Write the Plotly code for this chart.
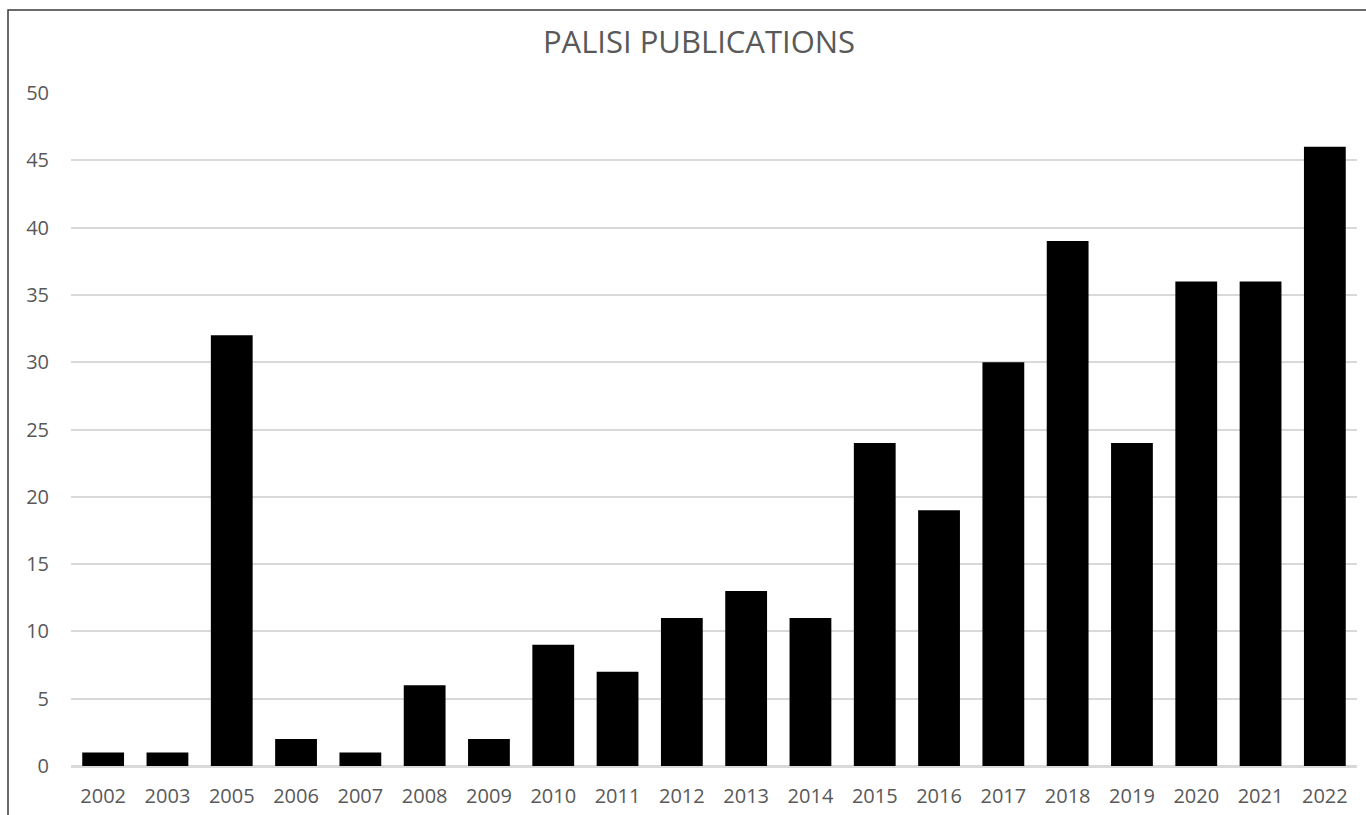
import plotly.graph_objects as go

# Publications per year
years = ["2002", "2003", "2005", "2006", "2007", "2008", "2009", "2010", "2011", "2012",
         "2013", "2014", "2015", "2016", "2017", "2018", "2019", "2020", "2021", "2022"]
counts = [1, 1, 32, 2, 1, 6, 2, 9, 7, 11, 13, 11, 24, 19, 30, 39, 24, 36, 36, 46]
y_ticks = [0, 5, 10, 15, 20, 25, 30, 35, 40, 45, 50]

W, H = 1366, 815
ML, MR, MT, MB = 71, 9, 93, 49
plot_w = W - ML - MR
plot_h = H - MT - MB

fig = go.Figure(go.Bar(x=years, y=counts, marker=dict(color="black", line=dict(width=0))))

text_color = "#595959"
font_family = "Open Sans, Noto Sans, sans-serif"

# outer chart frame (left/top edges visible, extends past right and bottom)
fx0 = (8 - ML) / plot_w
fy1 = (H - MB - 10) / plot_h
fig.add_shape(type="rect", xref="paper", yref="paper",
              x0=fx0, x1=1.2, y0=-0.3, y1=fy1,
              line=dict(color="#3a3a3a", width=1.5), fillcolor="rgba(0,0,0,0)", layer="above")

fig.update_layout(
    width=W, height=H,
    margin=dict(l=ML, r=MR, t=MT, b=MB),
    paper_bgcolor="white", plot_bgcolor="white",
    bargap=0.35,
    showlegend=False,
    title=dict(text="PALISI PUBLICATIONS", x=699 / W, xref="container", y=1 - 42 / H,
               yanchor="middle", xanchor="center",
               font=dict(family=font_family, size=31, color=text_color)),
    font=dict(family=font_family, color=text_color),
)
fig.update_xaxes(type="category", showgrid=False, showline=True, linecolor="#d9d9d9",
                 linewidth=1.5, ticks="outside", ticklen=11, tickcolor="rgba(0,0,0,0)",
                 tickfont=dict(size=20, color=text_color), automargin=False)
fig.update_yaxes(range=[0, 50], tickvals=y_ticks, showgrid=True, gridcolor="#d9d9d9",
                 gridwidth=1.5, zeroline=True, zerolinecolor="#d9d9d9", zerolinewidth=1.5,
                 showline=False, ticks="outside", ticklen=17, tickcolor="rgba(0,0,0,0)",
                 tickfont=dict(size=20, color=text_color), automargin=False)

fig.write_html("out.html")
